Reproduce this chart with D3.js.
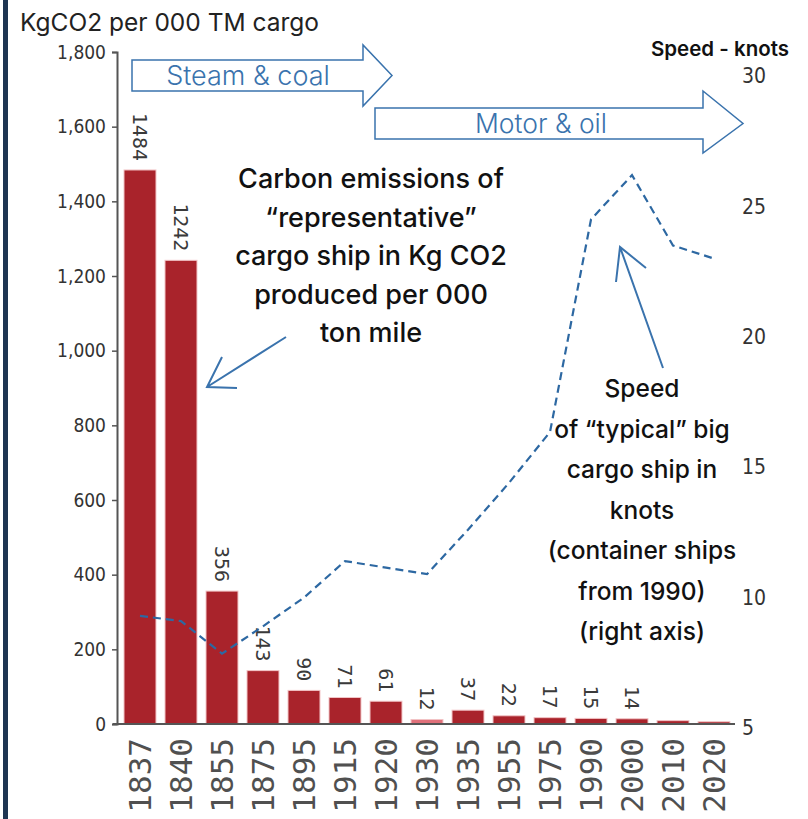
<!DOCTYPE html>
<html>
<head>
<meta charset="utf-8">
<script src="https://cdn.jsdelivr.net/npm/d3@7"></script>
<style>
  body { margin: 0; background: #fff; }
  svg { display: block; }
</style>
</head>
<body>
<div></div>
<script>
const width = 808
const height = 819

// data
const years = ['1837', '1840', '1855', '1875', '1895', '1915', '1920', '1930', '1935', '1955', '1975', '1990', '2000', '2010', '2020']
const emissions = [1484, 1242, 356, 143, 90, 71, 61, 12, 37, 22, 17, 15, 14, 9, 6]
const emissionLabels = ['1484', '1242', '356', '143', '90', '71', '61', '12', '37', '22', '17', '15', '14', '', '']
const speed = [9.3, 9.1, 7.85, 8.9, 10.0, 11.4, 11.15, 10.9, 12.6, 14.4, 16.35, 24.5, 26.2, 23.5, 23.0]
const leftTicks = [0, 200, 400, 600, 800, 1000, 1200, 1400, 1600, 1800]
const rightTicks = [5, 10, 15, 20, 25, 30]
const highlightYear = '1930'

const narrow = '"Liberation Sans Narrow", "DejaVu Sans Condensed", sans-serif'
const mono = '"DejaVu Sans Mono", monospace'
const sans = 'Inter, "Noto Sans", sans-serif'
const blue = '#3a73ad'

let svg = d3.select('div').append('svg')
    .attr('width', width)
    .attr('height', height)

// left border strip
svg.append('rect').attr('x', 3).attr('y', 0).attr('width', 5).attr('height', height).style('fill', '#1e3552')

let x = d3.scaleBand().domain(years).range([119, 735]).paddingInner(0.22).paddingOuter(0.122)
let y = d3.scaleLinear().domain([0, 1800]).range([724, 52])
let yR = d3.scaleLinear().domain([5, 30]).range([728, 76])

// title
svg.append('text')
    .attr('x', 20).attr('y', 31)
    .style('font-family', sans).style('font-size', '24.5px').style('fill', '#222')
    .text('KgCO2 per 000 TM cargo')

// left axis
let leftAxis = svg.append('g')
    .attr('transform', 'translate(117,0)')
    .call(d3.axisLeft(y).tickValues(leftTicks).tickFormat(d3.format(',')).tickSize(5).tickPadding(6))
leftAxis.select('.domain').attr('stroke', '#555').attr('stroke-width', 2)
leftAxis.selectAll('.tick line').attr('stroke', '#555').attr('stroke-width', 1.5)
leftAxis.selectAll('text')
    .style('font-family', narrow).style('font-stretch', 'condensed').style('font-size', '19px').style('fill', '#333')

// right axis
let rightAxis = svg.append('g')
    .attr('transform', 'translate(742,0)')
    .call(d3.axisRight(yR).tickValues(rightTicks).tickSize(0).tickPadding(0))
rightAxis.select('.domain').remove()
rightAxis.selectAll('text')
    .attr('text-anchor', 'start')
    .style('font-family', narrow).style('font-stretch', 'condensed').style('font-size', '21px').style('fill', '#333')

svg.append('text')
    .attr('x', 720).attr('y', 56)
    .attr('text-anchor', 'middle')
    .style('font-family', sans).style('font-size', '20.5px').style('font-weight', 600).style('fill', '#111')
    .text('Speed - knots')

// bars
let bars = svg.append('g').selectAll('rect')
    .data(years)
    .enter()
    .append('rect')
    .attr('x', d => x(d))
    .attr('width', x.bandwidth())
    .attr('y', (d, i) => y(emissions[i]))
    .attr('height', (d, i) => y(0) - y(emissions[i]))
    .style('fill', d => d == highlightYear ? '#e0707a' : '#a9232b')
    .style('stroke', '#f2c4c6')
    .style('stroke-width', 1)

// bar value labels, rotated
svg.append('g').selectAll('text')
    .data(years)
    .enter()
    .append('text')
    .attr('transform', (d, i) => 'translate(' + (x(d) + x.bandwidth() / 2) + ',' + (y(emissions[i]) - 9) + ') rotate(90)')
    .attr('text-anchor', 'end')
    .attr('dy', '0.35em')
    .style('font-family', mono).style('font-size', '20px').style('fill', '#3a3a3a')
    .text((d, i) => emissionLabels[i])

// bottom axis line
svg.append('line')
    .attr('x1', 113).attr('x2', 735)
    .attr('y1', y(0)).attr('y2', y(0))
    .attr('stroke', '#555').attr('stroke-width', 2)

// category labels
svg.append('g').selectAll('text')
    .data(years)
    .enter()
    .append('text')
    .attr('transform', d => 'translate(' + (x(d) + x.bandwidth() / 2) + ',738) rotate(-90)')
    .attr('text-anchor', 'end')
    .attr('dy', '0.36em')
    .style('font-family', mono).style('font-size', '31px').style('fill', '#505050')
    .text(d => d)

// speed line
let line = d3.line()
    .x((d, i) => x(years[i]) + x.bandwidth() / 2)
    .y(d => yR(d))
svg.append('path')
    .datum(speed)
    .attr('d', line)
    .style('fill', 'none')
    .style('stroke', '#2d68a2')
    .style('stroke-width', 2.2)
    .style('stroke-dasharray', '8,5')

// era arrows
function blockArrow(x0, x1, headX, top, bottom, headTop, headBottom) {
    let mid = (top + bottom) / 2
    return 'M' + x0 + ',' + top + 'L' + headX + ',' + top + 'L' + headX + ',' + headTop +
        'L' + x1 + ',' + mid + 'L' + headX + ',' + headBottom + 'L' + headX + ',' + bottom +
        'L' + x0 + ',' + bottom + 'Z'
}
svg.append('path')
    .attr('d', blockArrow(132, 392, 363, 60, 91, 45, 106))
    .style('fill', '#fff').style('stroke', blue).style('stroke-width', 1.5)
svg.append('path')
    .attr('d', blockArrow(375, 743, 703, 108, 139, 91, 153))
    .style('fill', '#fff').style('stroke', blue).style('stroke-width', 1.5)
svg.append('text')
    .attr('x', 248).attr('y', 85).attr('text-anchor', 'middle')
    .style('font-family', sans).style('font-size', '27px').style('font-weight', 300).style('fill', blue)
    .text('Steam & coal')
svg.append('text')
    .attr('x', 541).attr('y', 133).attr('text-anchor', 'middle')
    .style('font-family', sans).style('font-size', '26.5px').style('font-weight', 300).style('fill', blue)
    .text('Motor & oil')

// annotations
const carbonNote = ['Carbon emissions of', '\u201crepresentative\u201d', 'cargo ship in Kg CO2', 'produced per 000', 'ton mile']
const speedNote = ['Speed', 'of \u201ctypical\u201d big', 'cargo ship in', 'knots', '(container ships', 'from 1990)', '(right axis)']

svg.append('g').selectAll('text')
    .data(carbonNote)
    .enter()
    .append('text')
    .attr('x', 371)
    .attr('y', (d, i) => 188 + i * 38.5)
    .attr('text-anchor', 'middle')
    .style('font-family', sans).style('font-size', '27px').style('font-weight', 500).style('fill', '#111')
    .text(d => d)

svg.append('g').selectAll('text')
    .data(speedNote)
    .enter()
    .append('text')
    .attr('x', 642)
    .attr('y', (d, i) => 397 + i * 40.5)
    .attr('text-anchor', 'middle')
    .style('font-family', sans).style('font-size', '24.5px').style('font-weight', 500).style('fill', '#111')
    .text(d => d)

// pointer arrows
function pointer(x0, y0, x1, y1, a1, a2) {
    svg.append('path')
        .attr('d', 'M' + x0 + ',' + y0 + 'L' + x1 + ',' + y1 + 'M' + a1[0] + ',' + a1[1] + 'L' + x1 + ',' + y1 + 'L' + a2[0] + ',' + a2[1])
        .style('fill', 'none').style('stroke', blue).style('stroke-width', 2)
}
pointer(286, 337, 207, 387, [222, 357], [237, 388])
pointer(663, 368, 620, 247, [616, 282], [646, 268])
</script>
</body>
</html>
